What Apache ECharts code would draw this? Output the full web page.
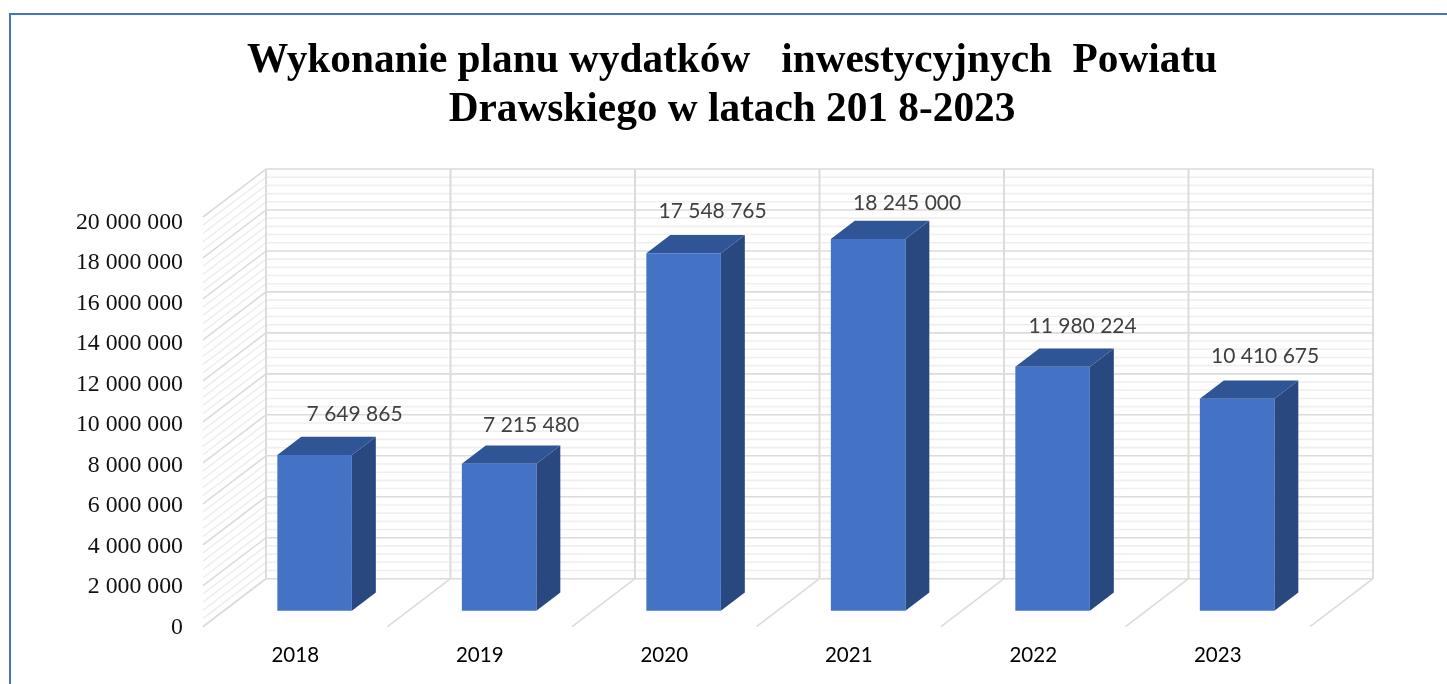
<!DOCTYPE html>
<html><head><meta charset="utf-8">
<style>html,body{margin:0;padding:0;background:#fff}#c{width:1447px;height:684px}</style>
<script src="https://cdn.jsdelivr.net/npm/echarts@6/dist/echarts.min.js"></script>
</head><body><div id="c"></div>
<script>
const titleLines = ['Wykonanie planu wydatków   inwestycyjnych  Powiatu', 'Drawskiego w latach 201 8-2023'];
const categories = ['2018', '2019', '2020', '2021', '2022', '2023'];
const values = [7649865, 7215480, 17548765, 18245000, 11980224, 10410675];
const valueLabels = ['7 649 865', '7 215 480', '17 548 765', '18 245 000', '11 980 224', '10 410 675'];
const majorTicks = [0, 2e6, 4e6, 6e6, 8e6, 10e6, 12e6, 14e6, 16e6, 18e6, 20e6];
const minorTicks = [0.4e6, 0.8e6, 1.2e6, 1.6e6, 2.4e6, 2.8e6, 3.2e6, 3.6e6, 4.4e6, 4.8e6, 5.2e6, 5.6e6,
  6.4e6, 6.8e6, 7.2e6, 7.6e6, 8.4e6, 8.8e6, 9.2e6, 9.6e6, 10.4e6, 10.8e6, 11.2e6, 11.6e6,
  12.4e6, 12.8e6, 13.2e6, 13.6e6, 14.4e6, 14.8e6, 15.2e6, 15.6e6, 16.4e6, 16.8e6, 17.2e6, 17.6e6,
  18.4e6, 18.8e6, 19.2e6, 19.6e6];
const boundaries = [0, 1, 2, 3, 4, 5, 6];

// oblique projection of the 3D box
const DX = 63, DY = 48;
const barFront = 0.33, barBack = 0.71, barWidth = 0.404, barShift = 0.105, barScale = 0.995;
const labelShift = [[40, -41], [32, -39], [29, -42], [39, -36], [30, -40], [28, -42]];

const chart = echarts.init(document.getElementById('c'), null, {renderer: 'canvas'});
const fmt = v => String(v).replace(/\B(?=(\d{3})+$)/g, ' ');

function wallSeries(ticks, color, width) {
  return {
    type: 'custom', silent: true, clip: false, data: ticks.map(v => [v]),
    encode: {y: 0},
    renderItem(params, api) {
      const v = api.value(0);
      const a = api.coord([0, v]);
      const x0 = params.coordSys.x, x1 = x0 + params.coordSys.width;
      const y = a[1];
      return {type: 'polyline', shape: {points: [[x0, y], [x0 + DX, y - DY], [x1 + DX, y - DY]]},
        style: {fill: null, stroke: color, lineWidth: width}};
    }
  };
}

const option = {
  animation: false,
  backgroundColor: '#fff',
  title: {
    text: titleLines.join('\n'), left: 727, top: 32, textAlign: 'center',
    textStyle: {fontFamily: 'Liberation Serif', fontWeight: 'bold', fontSize: 41.3, lineHeight: 49, color: '#000'}
  },
  grid: [
    {left: 203, right: 137, top: 217, bottom: 57.3},
    {left: 203, right: 137, top: 222.5, bottom: 56.5}
  ],
  xAxis: [
    {type: 'category', data: categories,
      axisLine: {show: false}, axisTick: {show: false}, splitLine: {show: false},
      axisLabel: {margin: 18.5, fontFamily: 'Lato', fontSize: 20.5, color: '#000'}},
    {type: 'category', gridIndex: 1, data: categories, show: false}
  ],
  yAxis: [
    {type: 'value', min: 0, max: 20000000, interval: 2000000,
      axisLine: {show: false}, axisTick: {show: false}, splitLine: {show: false}, axisLabel: {show: false}},
    {type: 'value', gridIndex: 1, min: 0, max: 20000000, interval: 2000000,
      axisLine: {show: false}, axisTick: {show: false}, splitLine: {show: false},
      axisLabel: {margin: 20, fontFamily: 'Liberation Serif', fontSize: 23.8, color: '#111', formatter: fmt}}
  ],
  graphic: [{type: 'polyline', silent: true, shape: {points: [[10, 684], [10, 14], [1447, 14]]},
    style: {fill: null, stroke: '#4472C4', lineWidth: 2}}],
  series: [
    wallSeries(minorTicks, '#EFEFEF', 1.6),
    wallSeries(majorTicks, '#DCDCDC', 1.6),
    {
      type: 'custom', silent: true, clip: false, data: boundaries.map(b => [b]),
      encode: {y: -1},
      renderItem(params, api) {
        const cs = params.coordSys;
        const x = cs.x + api.value(0) * cs.width / categories.length;
        const yB = cs.y + cs.height, yT = cs.y;
        return {type: 'group', children: [
          {type: 'line', shape: {x1: x, y1: yB, x2: x + DX, y2: yB - DY}, style: {stroke: '#DCDCDC', lineWidth: 1.6}},
          {type: 'line', shape: {x1: x + DX, y1: yB - DY, x2: x + DX, y2: yT - DY}, style: {stroke: '#DCDCDC', lineWidth: 2}}
        ]};
      }
    },
    {
      type: 'custom', clip: false, z: 5,
      data: values.map((v, i) => [i, v]),
      encode: {x: 0, y: 1},
      renderItem(params, api) {
        const i = api.value(0);
        const top = api.coord([i, api.value(1)]);
        const bot = api.coord([i, 0]);
        const band = api.size([1, 0])[0];
        const w = band * barWidth;
        const cx = top[0] + band * barShift;
        const l = cx - w / 2, r = cx + w / 2;
        const f = barFront, b = barBack;
        const fb = bot[1], ft = fb - (fb - top[1]) * barScale;
        const Q = (x, y, d) => [x + DX * (d - f), y - DY * d];
        const lab = labelShift[i];
        return {type: 'group', children: [
          {type: 'polygon', shape: {points: [Q(r, ft, f), Q(r, ft, b), Q(r, fb, b), Q(r, fb, f)]}, style: {fill: '#2A4880'}},
          {type: 'polygon', shape: {points: [Q(l, ft, f), Q(r, ft, f), Q(r, ft, b), Q(l, ft, b)]}, style: {fill: '#2F5597'}},
          {type: 'polygon', shape: {points: [Q(l, ft, f), Q(r, ft, f), Q(r, fb, f), Q(l, fb, f)]}, style: {fill: '#4472C4'}},
          {type: 'text', style: {text: valueLabels[i], x: cx + lab[0], y: Q(l, ft, f)[1] + lab[1], align: 'center', verticalAlign: 'middle',
            fontFamily: 'Lato', fontSize: 21, fill: '#404040'}}
        ]};
      }
    }
  ]
};
chart.setOption(option);
</script></body></html>
